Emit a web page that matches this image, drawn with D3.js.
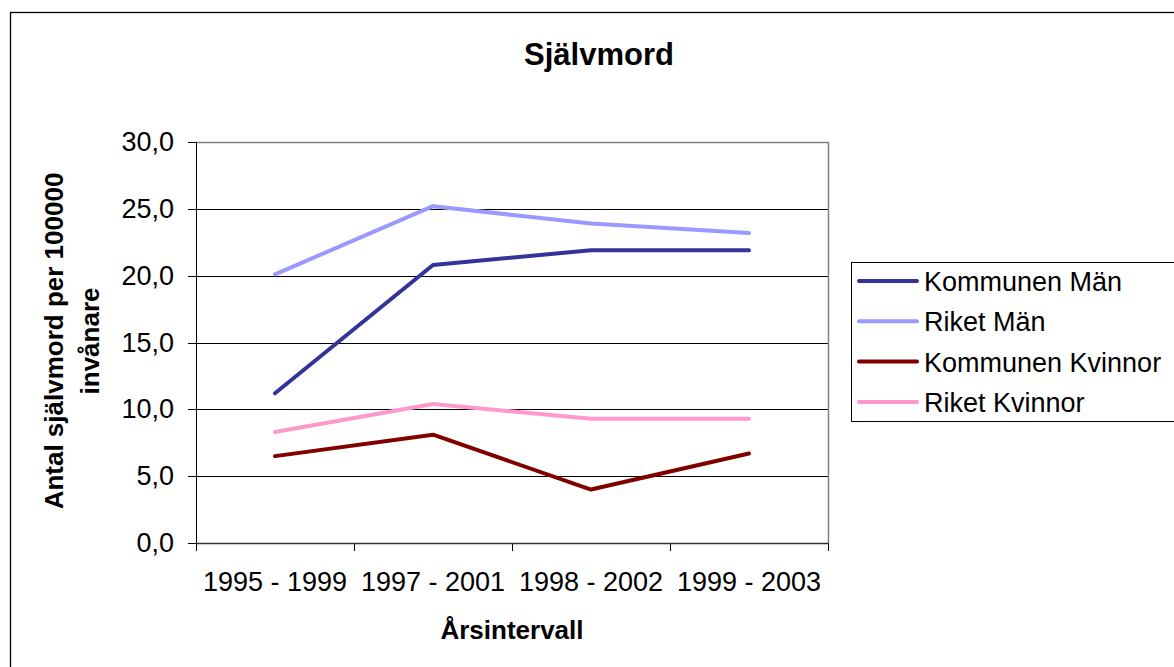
<!DOCTYPE html>
<html>
<head>
<meta charset="utf-8">
<title>Självmord</title>
<script src="https://cdn.jsdelivr.net/npm/d3@7"></script>
<style>
    body{
        margin:0;
        background-color:#fff;
        font-family:"Liberation Sans", Arial, sans-serif;
    }
    .axis path, .axis line{ stroke:#000; shape-rendering:crispEdges; }
    .axis text{ font-size:27px; fill:#000; font-family:"Liberation Sans", Arial, sans-serif; }
</style>
</head>
<body>
<div id="chart"></div>
<script>
// data
var categories = ["1995 - 1999", "1997 - 2001", "1998 - 2002", "1999 - 2003"];
var kommunenMan = [11.2, 20.8, 21.9, 21.9];
var riketMan = [20.1, 25.2, 23.9, 23.2];
var kommunenKvinnor = [6.5, 8.1, 4.0, 6.7];
var riketKvinnor = [8.3, 10.4, 9.3, 9.3];
var seriesNames = ["Kommunen Män", "Riket Män", "Kommunen Kvinnor", "Riket Kvinnor"];
var yTicks = [0, 5, 10, 15, 20, 25, 30];

var series = [kommunenMan, riketMan, kommunenKvinnor, riketKvinnor].map(function(v, i) {
    return {name: seriesNames[i], values: v};
});

var width = 1174, height = 667;
var plot = {left: 196, right: 828, top: 142, bottom: 543};

var color = d3.scaleOrdinal()
    .domain(seriesNames)
    .range(["#333399", "#9999ff", "#800000", "#ff99cc"]);

var svg = d3.select("#chart").append("svg")
    .attr("width", width)
    .attr("height", height);

// outer chart border (right and bottom edges fall outside the picture)
svg.append("rect")
    .attr("x", 10.5).attr("y", 12.5)
    .attr("width", width).attr("height", height)
    .attr("fill", "#fff")
    .attr("stroke", "#000")
    .attr("stroke-width", 1.3);

var xScale = d3.scaleBand().domain(categories).range([plot.left, plot.right]);
var yScale = d3.scaleLinear().domain([0, 30]).range([plot.bottom, plot.top]);
var xMid = function(c) { return xScale(c) + xScale.bandwidth() / 2; };

// gridlines
svg.append("g").selectAll("line")
    .data(yTicks.slice(1, -1))
    .enter().append("line")
    .attr("x1", plot.left).attr("x2", plot.right)
    .attr("y1", function(d) { return Math.round(yScale(d)) + 0.5; })
    .attr("y2", function(d) { return Math.round(yScale(d)) + 0.5; })
    .attr("stroke", "#000")
    .attr("stroke-width", 1);

// plot area border top/right (gray)
svg.append("path")
    .attr("d", "M" + plot.left + "," + (plot.top + 0.5) + "H" + (plot.right + 0.5) + "V" + plot.bottom)
    .attr("fill", "none")
    .attr("stroke", "#808080")
    .attr("stroke-width", 1.5);

// y axis
var yAxis = d3.axisLeft(yScale)
    .tickValues(yTicks)
    .tickSize(8)
    .tickPadding(14)
    .tickFormat(function(d) { return d3.format(".1f")(d).replace(".", ","); });

svg.append("g")
    .attr("class", "axis")
    .attr("transform", "translate(" + plot.left + ",0)")
    .call(yAxis)
    .call(function(g) { g.select(".domain").attr("d", "M-8," + plot.top + "H0V" + plot.bottom); });

// x axis: labels at category centres, tick marks at boundaries
var xAxis = d3.axisBottom(xScale).tickSize(0).tickPadding(29);
svg.append("g")
    .attr("class", "axis")
    .attr("transform", "translate(0," + plot.bottom + ")")
    .call(xAxis)
    .call(function(g) { g.select(".domain").remove(); });

var bounds = categories.map(function(c) { return xScale(c); }).concat([plot.right]);
svg.append("g").selectAll("line")
    .data(bounds)
    .enter().append("line")
    .attr("x1", function(d) { return Math.round(d) + 0.5; })
    .attr("x2", function(d) { return Math.round(d) + 0.5; })
    .attr("y1", plot.bottom).attr("y2", plot.bottom + 8)
    .attr("stroke", "#000");

svg.append("line")
    .attr("x1", plot.left).attr("x2", plot.right + 1)
    .attr("y1", plot.bottom + 0.5).attr("y2", plot.bottom + 0.5)
    .attr("stroke", "#333").attr("stroke-width", 1.5);

// lines
var line = d3.line()
    .x(function(d, i) { return xMid(categories[i]); })
    .y(function(d) { return yScale(d); });

svg.append("g").selectAll("path")
    .data(series)
    .enter().append("path")
    .attr("d", function(d) { return line(d.values); })
    .attr("fill", "none")
    .attr("stroke", function(d) { return color(d.name); })
    .attr("stroke-width", 4)
    .attr("stroke-linejoin", "round")
    .attr("stroke-linecap", "round");

// title
svg.append("text")
    .attr("x", 599).attr("y", 65)
    .attr("text-anchor", "middle")
    .style("font-size", "31px").style("font-weight", "bold")
    .text("Självmord");

// axis titles
svg.append("text")
    .attr("x", (plot.left + plot.right) / 2).attr("y", 639)
    .attr("text-anchor", "middle")
    .style("font-size", "26px").style("font-weight", "bold")
    .text("Årsintervall");

var yTitle = svg.append("text")
    .attr("transform", "translate(0,341) rotate(-90)")
    .attr("text-anchor", "middle")
    .style("font-size", "26px").style("font-weight", "bold");
yTitle.append("tspan").attr("x", 0).attr("y", 63).text("Antal självmord per 100000");
yTitle.append("tspan").attr("x", 0).attr("y", 99).text("invånare");

// legend (right edge runs past the picture)
var legend = svg.append("g");
legend.append("rect")
    .attr("x", 851.5).attr("y", 262.5)
    .attr("width", 340).attr("height", 159)
    .attr("fill", "#fff")
    .attr("stroke", "#000");

var item = legend.selectAll(".item")
    .data(series)
    .enter().append("g")
    .attr("class", "item")
    .attr("transform", function(d, i) { return "translate(0," + (281 + i * 40.3) + ")"; });

item.append("line")
    .attr("x1", 859).attr("x2", 917)
    .attr("stroke", function(d) { return color(d.name); })
    .attr("stroke-width", 4)
    .attr("stroke-linecap", "round");

item.append("text")
    .attr("x", 924).attr("y", 10)
    .style("font-size", "27px")
    .text(function(d) { return d.name; });
</script>
</body>
</html>
